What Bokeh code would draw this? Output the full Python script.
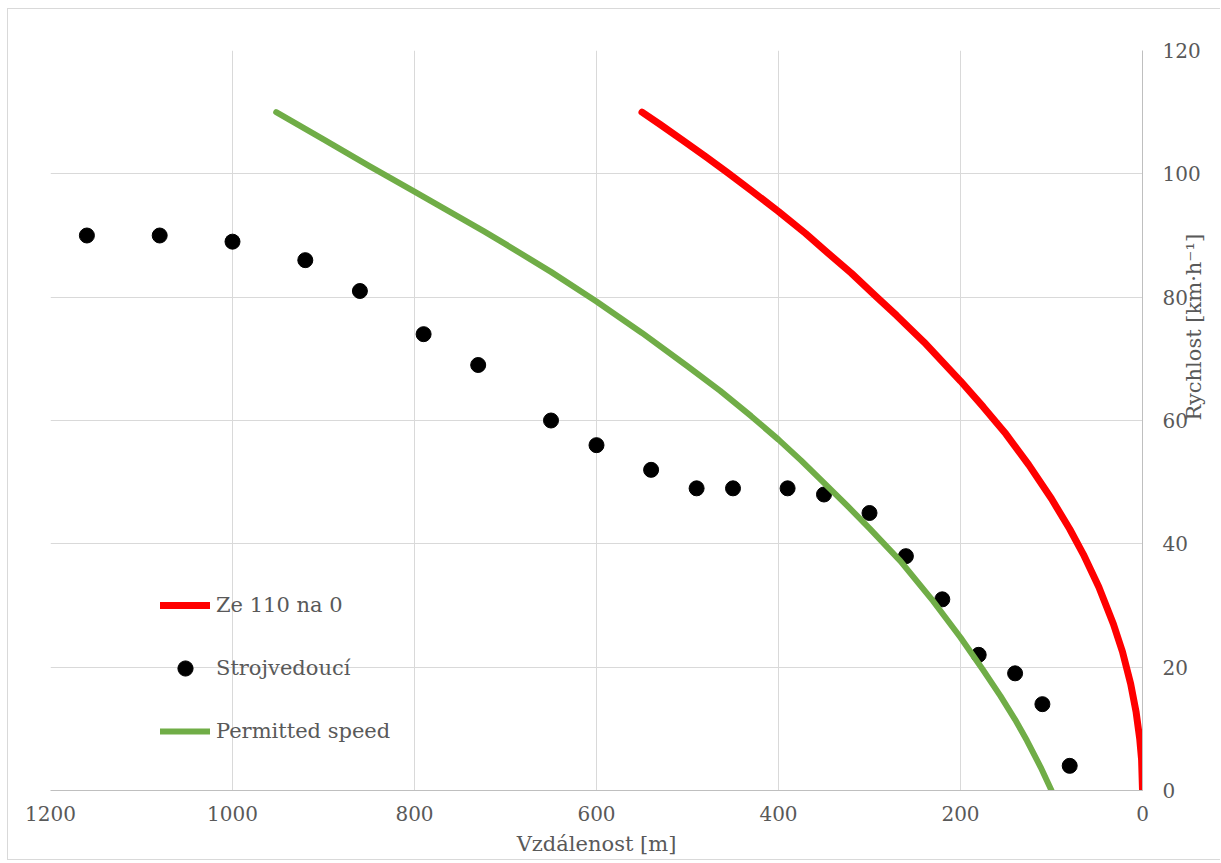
import math
from bokeh.plotting import figure
from bokeh.models import Range1d, FixedTicker, Legend, LegendItem, LinearAxis
from bokeh.embed import file_html
from bokeh.resources import INLINE

# --- data ---
red_dist = [550, 530, 504, 480, 456, 430, 400, 370, 350, 320, 292, 270, 240, 200, 175,
            150, 125, 100, 80, 65, 48, 32, 22, 13, 7, 3, 1, 0]
red_speed = [110, 108, 105.3, 102.8, 100.2, 97.3, 93.9, 90.3, 87.7, 83.9, 80, 77, 72.7,
             66.4, 62.2, 57.8, 52.8, 47.3, 42.4, 38.3, 33, 27, 22.5, 17.3, 12.7, 8.3, 5, 0]

green_dist = [952, 900, 850, 800, 750, 724, 700, 650, 600, 550, 500, 464, 430, 400, 375,
              350, 324, 300, 266, 230, 200, 175, 156, 140, 127, 112, 100]
green_speed = [110, 105.6, 101.3, 97.1, 92.9, 90.7, 88.6, 84.1, 79.3, 74.2, 68.8, 64.8,
               60.7, 56.9, 53.5, 49.9, 46.1, 42.5, 37.2, 30.7, 24.8, 19.5, 15.3, 11.5,
               8.1, 3.8, 0]

driver_dist = [1160, 1080, 1000, 920, 860, 790, 730, 650, 600, 540, 490, 450, 390, 350,
               300, 260, 220, 180, 140, 110, 80]
driver_speed = [90, 90, 89, 86, 81, 74, 69, 60, 56, 52, 49, 49, 49, 48,
                45, 38, 31, 22, 19, 14, 4]

x_ticks = [0, 200, 400, 600, 800, 1000, 1200]
y_ticks = [0, 20, 40, 60, 80, 100, 120]

series_names = ["Ze 110 na 0", "Strojvedoucí", "Permitted speed"]
x_title = "Vzdálenost [m]"
y_title = "Rychlost [km·h⁻¹]"
y_title_pos = 60

FONT = "DejaVu Serif"
TXT = "#595959"
TICK_SIZE = "20px"
TITLE_SIZE = "21px"

p = figure(width=1213, height=852,
           x_range=Range1d(1200, 0), y_range=Range1d(0, 120),
           y_axis_location="right",
           output_backend="svg", toolbar_location=None,
           min_border_left=42, min_border_top=41,
           min_border_right=79, min_border_bottom=71)

p.styles = {"margin-left": "7px", "margin-top": "8px",
            "border-left": "1px solid #d9d9d9", "border-top": "1px solid #d9d9d9",
            "border-bottom": "1px solid #d9d9d9"}
p.outline_line_color = None
p.background_fill_color = "white"
p.border_fill_color = "white"

p.xaxis.ticker = FixedTicker(ticks=x_ticks)
p.yaxis.ticker = FixedTicker(ticks=y_ticks)
for ax in (p.xaxis, p.yaxis):
    ax.axis_line_color = "#bfbfbf"
    ax.axis_line_width = 1
    ax.major_tick_line_color = None
    ax.minor_tick_line_color = None
    ax.major_tick_out = 0
    ax.major_tick_in = 0
    ax.major_label_text_font = FONT
    ax.major_label_text_font_size = TICK_SIZE
    ax.major_label_text_color = TXT
    ax.axis_label_text_font = FONT
    ax.axis_label_text_font_size = TITLE_SIZE
    ax.axis_label_text_font_style = "normal"
    ax.axis_label_text_color = TXT

p.xaxis.major_label_standoff = 15
p.yaxis.major_label_standoff = 20

p.xaxis.axis_label = x_title
p.xaxis.axis_label_standoff = 8

# vertical title on the right, drawn as the only label of an extra right axis
title_axis = LinearAxis(ticker=FixedTicker(ticks=[y_title_pos]),
                        major_label_overrides={y_title_pos: y_title},
                        major_label_orientation=math.pi / 2,
                        major_label_standoff=-10,
                        major_label_text_font=FONT,
                        major_label_text_font_size=TITLE_SIZE,
                        major_label_text_color=TXT,
                        axis_line_color=None,
                        major_tick_line_color=None, minor_tick_line_color=None,
                        major_tick_out=0, major_tick_in=0)
p.add_layout(title_axis, "right")

p.xgrid.grid_line_color = "#d9d9d9"
p.ygrid.grid_line_color = "#d9d9d9"

r_red = p.line(red_dist, red_speed, line_color="#FF0000", line_width=7,
               line_cap="round", line_join="round")
r_dots = p.scatter(driver_dist, driver_speed, size=15, fill_color="black", line_color="black")
r_green = p.line(green_dist, green_speed, line_color="#70AD47", line_width=6,
                 line_cap="round", line_join="round")

legend = Legend(items=[
    LegendItem(label=series_names[0], renderers=[r_red]),
    LegendItem(label=series_names[1], renderers=[r_dots]),
    LegendItem(label=series_names[2], renderers=[r_green]),
], location=(110, 40))
legend.background_fill_alpha = 0
legend.border_line_color = None
legend.padding = 0
legend.margin = 0
legend.spacing = 25
legend.glyph_width = 50
legend.glyph_height = 38
legend.label_height = 38
legend.label_standoff = 6
legend.label_text_font = FONT
legend.label_text_font_size = TITLE_SIZE
legend.label_text_color = TXT
p.add_layout(legend, "center")

open("out.html", "w").write(file_html(p, INLINE))
